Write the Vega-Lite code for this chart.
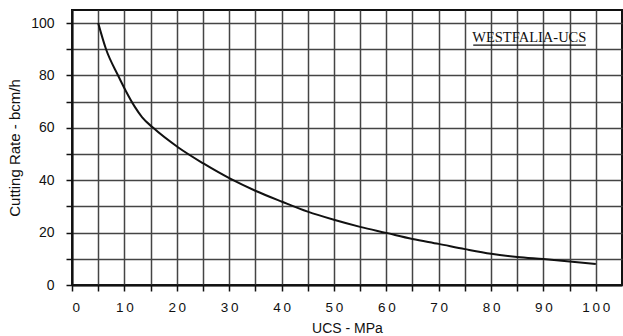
{
  "$schema": "https://vega.github.io/schema/vega-lite/v6.json",
  "width": 550,
  "height": 275,
  "autosize": {"type": "none"},
  "padding": {"left": 72, "top": 10, "right": 1, "bottom": 51},
  "background": "white",
  "config": {
    "view": {"stroke": "#111", "strokeWidth": 2},
    "font": "Liberation Sans",
    "axis": {
      "domainColor": "#111", "domainWidth": 2,
      "tickColor": "#111", "tickWidth": 1.5, "tickSize": 6,
      "labelColor": "#111", "titleColor": "#111",
      "titleFontWeight": "normal",
      "grid": true, "gridColor": "#444", "gridWidth": 1.5, "gridOpacity": 1
    }
  },
  "datasets": {
    "curve": [
      {"ucs": 5, "rate": 100},
      {"ucs": 6.5, "rate": 90},
      {"ucs": 8.8, "rate": 80},
      {"ucs": 10.3, "rate": 74},
      {"ucs": 12, "rate": 68},
      {"ucs": 13.4, "rate": 64},
      {"ucs": 15.5, "rate": 60},
      {"ucs": 20.3, "rate": 52.5},
      {"ucs": 25, "rate": 46.5},
      {"ucs": 30.2, "rate": 40.6},
      {"ucs": 35, "rate": 36},
      {"ucs": 40.1, "rate": 31.8},
      {"ucs": 45, "rate": 28},
      {"ucs": 50, "rate": 24.9},
      {"ucs": 55, "rate": 22.2},
      {"ucs": 60, "rate": 19.9},
      {"ucs": 65, "rate": 17.6},
      {"ucs": 70, "rate": 15.7},
      {"ucs": 75, "rate": 13.7},
      {"ucs": 80, "rate": 11.9},
      {"ucs": 85, "rate": 10.7},
      {"ucs": 90, "rate": 9.9},
      {"ucs": 95, "rate": 9},
      {"ucs": 100, "rate": 8}
    ],
    "label": [{"ucs": 87.3, "rate": 94.3, "text": "WESTFALIA-UCS"}],
    "underline": [{"ucs": 76.6, "ucs2": 98.1, "rate": 91.6}]
  },
  "encoding": {
    "x": {
      "field": "ucs", "type": "quantitative",
      "scale": {"domain": [0, 105], "nice": false, "zero": false},
      "axis": {
        "values": [0,5,10,15,20,25,30,35,40,45,50,55,60,65,70,75,80,85,90,95,100],
        "labelExpr": "datum.value % 10 == 0 ? join(split(datum.label, ''), '\u2009') : ''",
        "title": "UCS - MPa",
        "titleFontSize": 14,
        "titlePadding": 8,
        "labelFontSize": 13.5, "labelPadding": 9,
        "grid": true
      }
    },
    "y": {
      "field": "rate", "type": "quantitative",
      "scale": {"domain": [0, 105], "nice": false, "zero": false},
      "axis": {
        "values": [0,10,20,30,40,50,60,70,80,90,100],
        "labelExpr": "datum.value % 20 == 0 ? datum.label : ''",
        "title": "Cutting Rate  -  bcm/h",
        "titleFontSize": 15,
        "titlePadding": 8,
        "labelFontSize": 14, "labelPadding": 12,
        "grid": true
      }
    }
  },
  "layer": [
    {
      "data": {"name": "curve"},
      "mark": {"type": "line", "color": "#111", "strokeWidth": 2, "interpolate": "monotone"}
    },
    {
      "data": {"name": "label"},
      "mark": {"type": "text", "font": "Liberation Serif", "fontSize": 14.5, "color": "#111"},
      "encoding": {"text": {"field": "text"}}
    },
    {
      "data": {"name": "underline"},
      "mark": {"type": "rule", "color": "#111", "strokeWidth": 1.3},
      "encoding": {"x2": {"field": "ucs2"}}
    }
  ]
}
